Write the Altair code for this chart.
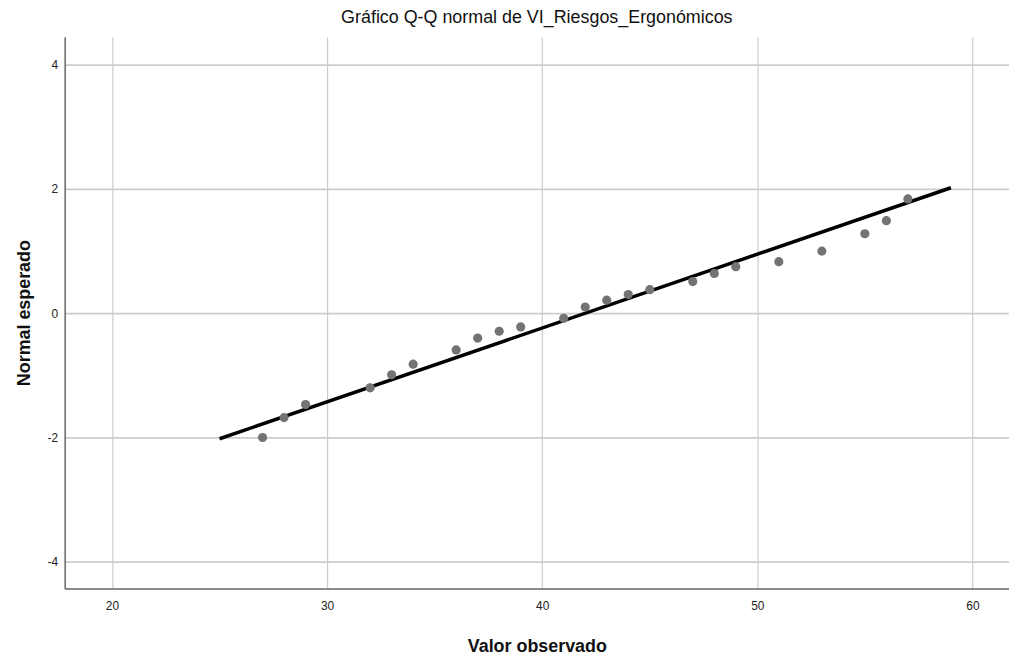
import altair as alt
import pandas as pd

obs = [27, 28, 29, 32, 33, 34, 36, 37, 38, 39, 41, 42, 43, 44, 45, 47, 48, 49, 51, 53, 55, 56, 57]
exp_norm = [-2.0, -1.68, -1.47, -1.2, -0.99, -0.82, -0.59, -0.4, -0.29, -0.22, -0.08, 0.1, 0.21,
            0.3, 0.38, 0.51, 0.64, 0.75, 0.83, 1.0, 1.28, 1.49, 1.84]
line_x = [25, 59]
line_y = [-2.02, 2.02]

pts = pd.DataFrame({"x": obs, "y": exp_norm})
ln = pd.DataFrame({"x": line_x, "y": line_y})

xs = alt.Scale(domain=[17.8, 61.7], nice=False, zero=False)
ys = alt.Scale(domain=[-4.43, 4.45], nice=False, zero=False)

xax = alt.Axis(title="Valor observado", values=[20, 30, 40, 50, 60], ticks=False,
               labelExpr="format(datum.value, 'd')",
               labelPadding=12, titlePadding=26, labelFontSize=12, titleFontSize=18,
               titleFontWeight="bold", labelColor="#222", titleColor="#111",
               domainColor="#666", domainWidth=1.5, gridColor="#cccccc", gridWidth=1.2)
yax = alt.Axis(title="Normal esperado", values=[-4, -2, 0, 2, 4], ticks=False,
               labelExpr="replace(format(datum.value, 'd'), '\u2212', '-')",
               labelPadding=7, titlePadding=14, labelFontSize=12, titleFontSize=18,
               titleFontWeight="bold", labelColor="#222", titleColor="#111",
               domainColor="#666", domainWidth=1.5, gridColor="#cccccc", gridWidth=1.6)

points = alt.Chart(pts).mark_circle(size=85, color="#737373", opacity=1).encode(
    x=alt.X("x:Q", scale=xs, axis=xax),
    y=alt.Y("y:Q", scale=ys, axis=yax),
)
line = alt.Chart(ln).mark_line(color="#000000", strokeWidth=3.5).encode(
    x=alt.X("x:Q", scale=xs),
    y=alt.Y("y:Q", scale=ys),
)

chart = alt.layer(line, points).properties(
    width=950, height=555,
    title=alt.TitleParams("Gráfico Q-Q normal de VI_Riesgos_Ergonómicos", fontSize=18,
                          fontWeight="normal", font="Liberation Sans", color="#111",
                          anchor="middle", offset=10),
    autosize=alt.AutoSizeParams(type="none"),
    padding={"left": 57, "top": 27, "right": 0, "bottom": 70},
).configure(font="Liberation Sans").configure_view(stroke=None)

chart.save("out.html", embed_options={"renderer": "svg", "actions": False})
